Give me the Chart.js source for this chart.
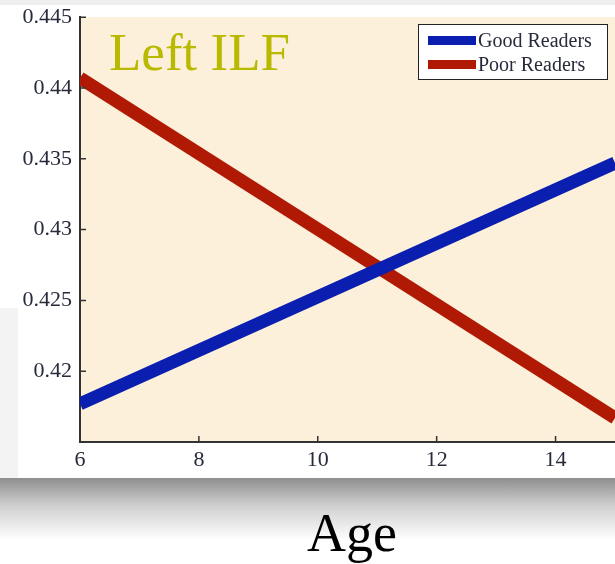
<!DOCTYPE html>
<html>
<head>
<meta charset="utf-8">
<script src="https://cdn.jsdelivr.net/npm/chart.js@4/dist/chart.umd.min.js"></script>
<style>
  html, body { margin: 0; padding: 0; background: #fff; }
  #page { position: relative; width: 615px; height: 564px; overflow: hidden; background: #fff; }
  #topStrip { position: absolute; left: 0; top: 0; width: 615px; height: 5px; background: #efefef; }
  #leftStrip { position: absolute; left: 0; top: 308px; width: 18px; height: 170px; background: #f3f3f3; }
  #shadow { position: absolute; left: 0; top: 478px; width: 615px; height: 62px;
    background: linear-gradient(#8e8e8e, #d0d0d0 45%, #fff); }
  #wrap { position: absolute; left: 0; top: -4px; width: 615px; height: 482px; }
  #title { position: absolute; left: 109px; top: 22px; font: 53px "Liberation Serif", serif; color: #b9b900; }
  #xTitle { position: absolute; left: 307px; top: 502px; font: 54px "Liberation Serif", serif; color: #000; }
  #legend { position: absolute; left: 418px; top: 24px; width: 188px; height: 54px; background: #fff;
    border: 1.5px solid #222; font: 20px "Liberation Serif", serif; color: #262a3a; }
  #legend .row { position: absolute; left: 9px; height: 22px; line-height: 22px; white-space: nowrap; }
  #legend .sw { display: inline-block; width: 48px; height: 9px; vertical-align: middle; margin-right: 2px; margin-top: -3px; }
</style>
</head>
<body>
<div id="page">
  <div id="topStrip"></div>
  <div id="leftStrip"></div>
  <div id="shadow"></div>
  <div id="wrap"><canvas id="chart" width="615" height="482"></canvas></div>
  <div id="title">Left ILF</div>
  <div id="legend"></div>
  <div id="xTitle">Age</div>
</div>
<script>
const ages = [6, 15];
const goodReaders = [0.4177, 0.4347];
const poorReaders = [0.4407, 0.4167];
const xTicks = [6, 8, 10, 12, 14];
const yTicks = [0.42, 0.425, 0.43, 0.435, 0.44, 0.445];
const seriesNames = ['Good Readers', 'Poor Readers'];
const seriesColors = ['#0a1fb0', '#b01a05'];

const toPoints = vals => ages.map((a, i) => ({ x: a, y: vals[i] }));

const plotBg = {
  id: 'plotBg',
  beforeDraw(chart) {
    const { ctx, chartArea: a } = chart;
    ctx.save();
    ctx.fillStyle = '#fdf0da';
    ctx.fillRect(a.left, a.top, a.right - a.left, a.bottom - a.top);
    ctx.restore();
  }
};

// matlab style inward ticks
const innerTicks = {
  id: 'innerTicks',
  afterDatasetsDraw(chart) {
    const { ctx, chartArea: a, scales } = chart;
    ctx.save();
    ctx.strokeStyle = '#333';
    ctx.lineWidth = 1.5;
    ctx.beginPath();
    scales.x.ticks.forEach(t => {
      const px = scales.x.getPixelForValue(t.value);
      ctx.moveTo(px, a.bottom);
      ctx.lineTo(px, a.bottom - 6);
    });
    scales.y.ticks.forEach(t => {
      const py = scales.y.getPixelForValue(t.value);
      ctx.moveTo(a.left, py);
      ctx.lineTo(a.left + 6, py);
    });
    ctx.stroke();
    ctx.restore();
  }
};

const tickFont = { family: '"Liberation Serif", serif', size: 22 };

const chart = new Chart(document.getElementById('chart'), {
  type: 'line',
  data: {
    datasets: [
      { label: seriesNames[0], data: toPoints(goodReaders), borderColor: seriesColors[0], backgroundColor: seriesColors[0], borderWidth: 13, pointRadius: 0, clip: 0 },
      { label: seriesNames[1], data: toPoints(poorReaders), borderColor: seriesColors[1], backgroundColor: seriesColors[1], borderWidth: 13, pointRadius: 0, clip: 0 },
    ],
  },
  options: {
    responsive: false,
    animation: false,
    layout: { padding: { top: 10, left: 0, right: 0, bottom: 0 } },
    plugins: { legend: { display: false }, tooltip: { enabled: false } },
    scales: {
      x: {
        type: 'linear',
        min: 6,
        max: 15,
        afterBuildTicks: s => { s.ticks = xTicks.map(v => ({ value: v })); },
        afterFit: s => { s.height = 36; },
        grid: { display: false, drawTicks: false },
        border: { display: true, color: '#333', width: 2 },
        ticks: { font: tickFont, color: '#262a3a', padding: 5, maxRotation: 0 },
      },
      y: {
        min: 0.415,
        max: 0.445,
        afterBuildTicks: s => { s.ticks = yTicks.map(v => ({ value: v })); },
        afterFit: s => { s.width = 80; },
        grid: { display: false, drawTicks: false },
        border: { display: true, color: '#333', width: 2 },
        ticks: { font: tickFont, color: '#262a3a', padding: 8, callback: v => String(+v.toFixed(3)) },
      },
    },
  },
  plugins: [plotBg, innerTicks],
});

const legend = document.getElementById('legend');
chart.data.datasets.forEach((ds, i) => {
  const row = document.createElement('div');
  row.className = 'row';
  row.style.top = (4 + i * 24) + 'px';
  row.innerHTML = '<span class="sw" style="background:' + ds.borderColor + '"></span>' + ds.label;
  legend.appendChild(row);
});
</script>
</body>
</html>
